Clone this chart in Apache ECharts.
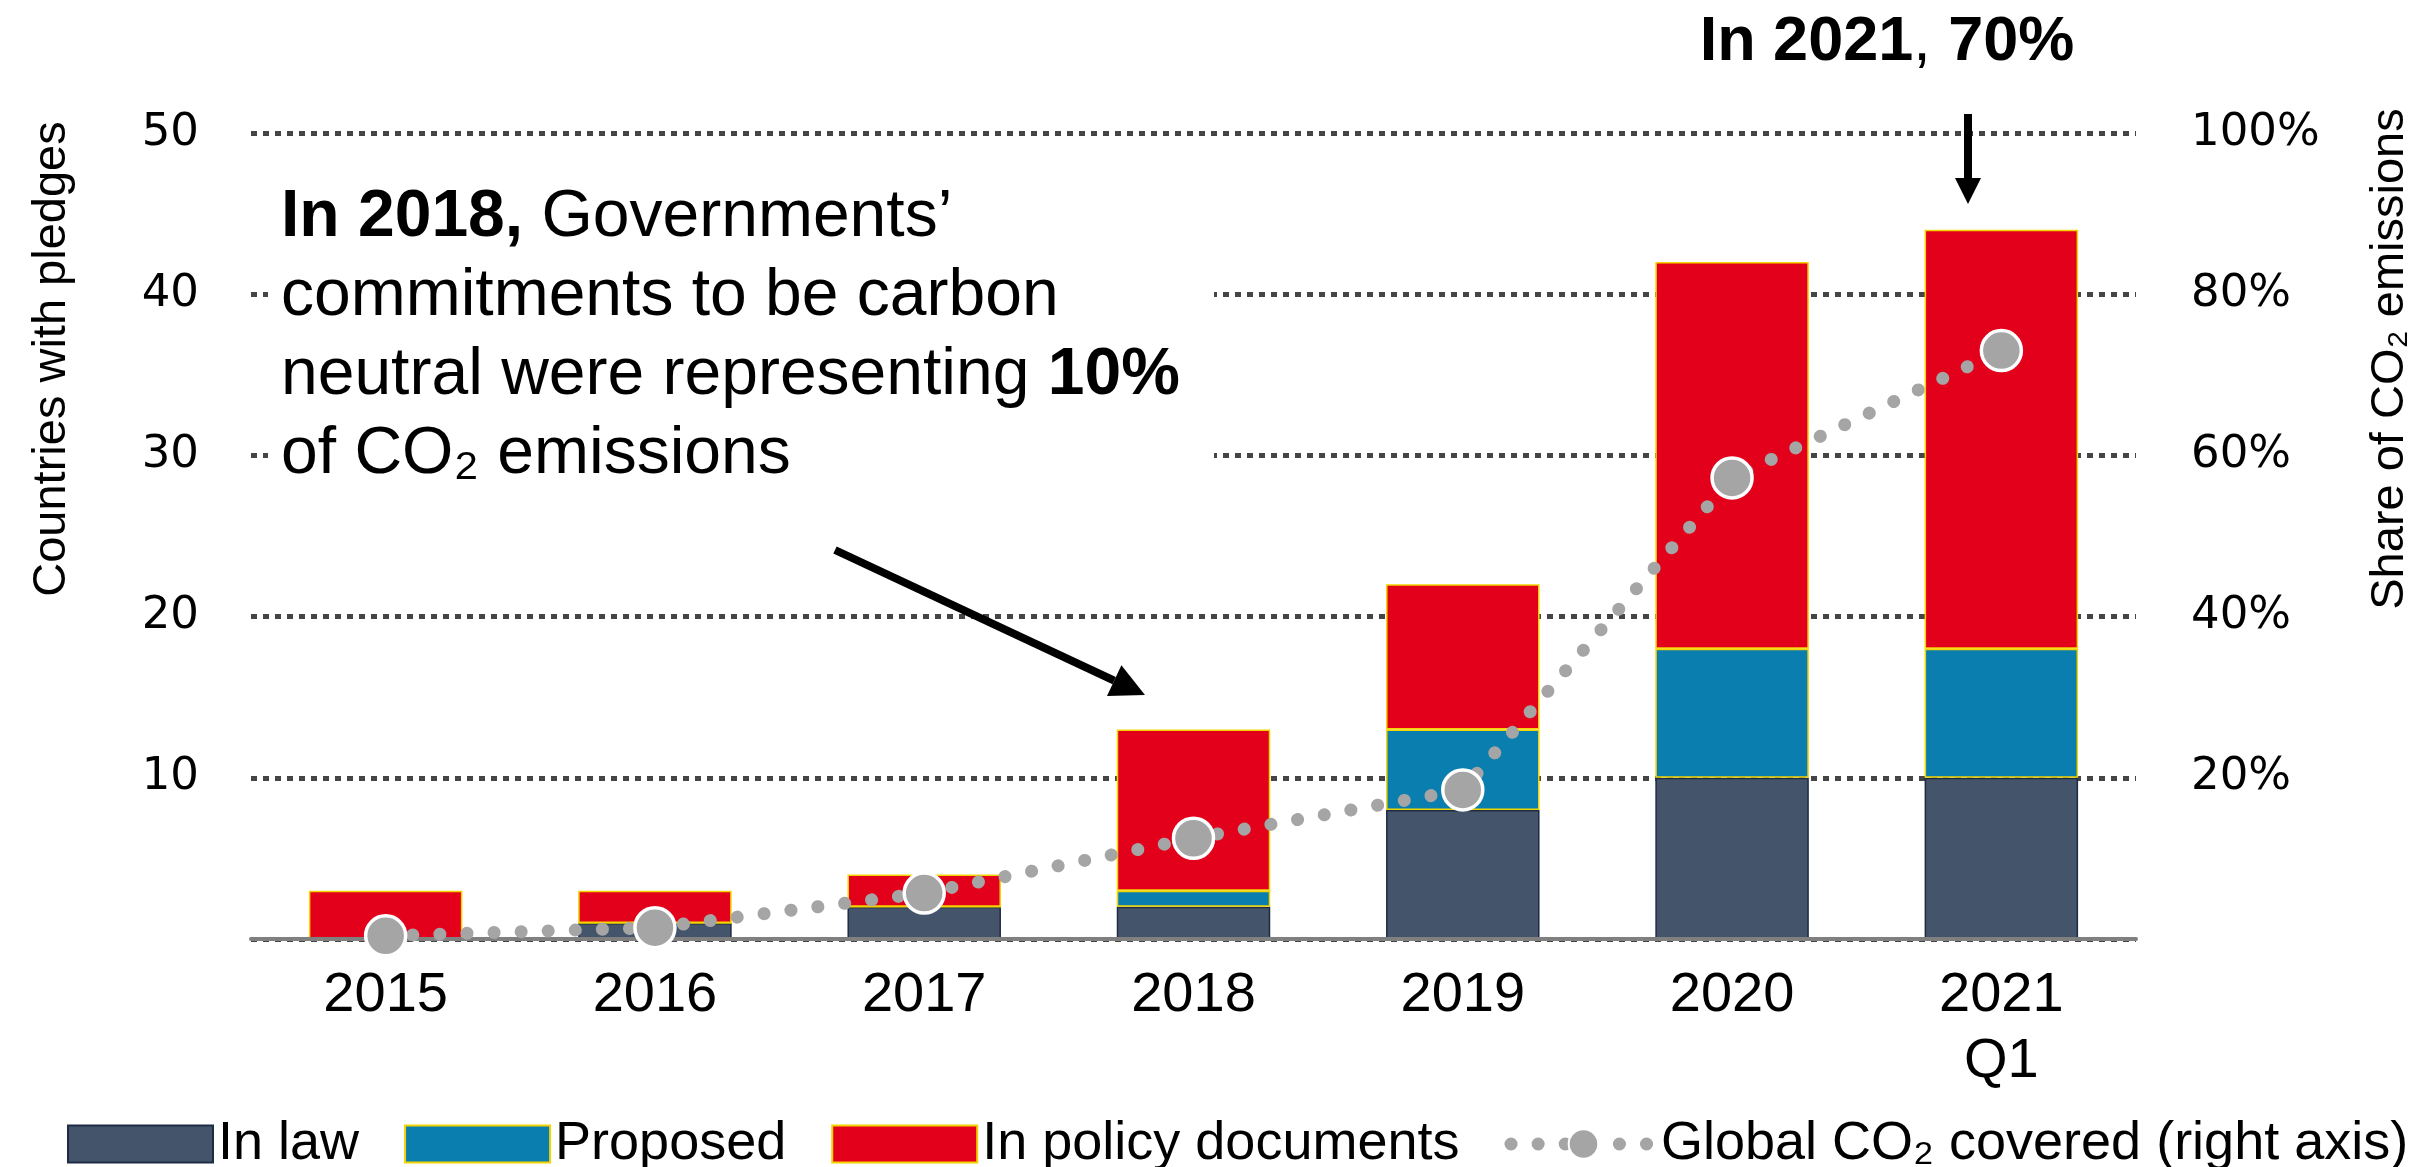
<!DOCTYPE html>
<html><head><meta charset="utf-8">
<script src="https://cdn.jsdelivr.net/npm/echarts@6/dist/echarts.min.js"></script>
<style>html,body{margin:0;padding:0;background:#fff}#c{width:2420px;height:1167px}</style>
</head><body><div id="c"></div>
<script>
// ---- data ----
const categories = ['2015', '2016', '2017', '2018', '2019', '2020', '2021\nQ1'];
const inLaw      = [0, 1, 2, 2, 8, 10, 10];
const proposed   = [0, 0, 0, 1, 5, 8, 8];
const inPolicy   = [3, 2, 2, 10, 9, 24, 26];
const co2Share   = [0.4, 1.4, 5.7, 12.5, 18.5, 57.2, 73];
const seriesNames = ['In law', 'Proposed', 'In policy documents', 'Global CO\u2082 covered (right axis)'];
const leftAxisTicks  = {min: 0, max: 50, interval: 10};
const rightAxisTicks = {min: 0, max: 100, interval: 20};

// ---- styling ----
const CAL = '"Liberation Sans", Arial, "DejaVu Sans", sans-serif';
const VER = '"DejaVu Sans", Verdana, sans-serif';
const C_LAW = '#44546A', C_PROP = '#0A7FAF', C_POL = '#E2001A', C_GREY = '#A5A5A5';
const DOTS = {color: C_GREY, width: 13, type: [0.1, 27], cap: 'round'};

const chart = echarts.init(document.getElementById('c'), null, {renderer: 'canvas'});

function arrow(x1, y1, x2, y2, w, headLen, headHalf) {
  const dx = x2 - x1, dy = y2 - y1, L = Math.hypot(dx, dy);
  const ux = dx / L, uy = dy / L, px = -uy, py = ux;
  const bx = x2 - ux * headLen, by = y2 - uy * headLen;
  return [
    {type: 'line', z: 20, shape: {x1: x1, y1: y1, x2: bx, y2: by}, style: {stroke: '#000', lineWidth: w}},
    {type: 'polygon', z: 20, shape: {points: [[x2, y2], [bx + px * headHalf, by + py * headHalf], [bx - px * headHalf, by - py * headHalf]]}, style: {fill: '#000'}}
  ];
}

const option = {
  animation: false,
  backgroundColor: '#fff',
  grid: {left: 251, right: 284, top: 133, bottom: 228},
  legend: {
    left: 62, top: 1112, itemWidth: 145, itemHeight: 37, itemGap: 45,
    selectedMode: false,
    textStyle: {fontFamily: CAL, fontSize: 54, color: '#000'},
    data: [
      {name: seriesNames[0], icon: 'rect'},
      {name: seriesNames[1], icon: 'rect'},
      {name: seriesNames[2], icon: 'rect'},
      {name: seriesNames[3], lineStyle: DOTS}
    ]
  },
  xAxis: {
    type: 'category', data: categories, z: 4,
    axisLine: {lineStyle: {color: '#808080', width: 4}},
    axisTick: {show: false},
    axisLabel: {fontFamily: CAL, fontSize: 56, color: '#000', margin: 24, lineHeight: 66}
  },
  yAxis: [
    {
      type: 'value', min: leftAxisTicks.min, max: leftAxisTicks.max, interval: leftAxisTicks.interval,
      axisLine: {show: false}, axisTick: {show: false},
      splitLine: {lineStyle: {color: '#454545', width: 5, type: [6, 6]}},
      axisLabel: {formatter: v => v === 0 ? '' : String(v), fontFamily: VER, fontSize: 45, color: '#000', margin: 52}
    },
    {
      type: 'value', position: 'right', min: rightAxisTicks.min, max: rightAxisTicks.max, interval: rightAxisTicks.interval,
      axisLine: {show: false}, axisTick: {show: false}, splitLine: {show: false},
      axisLabel: {formatter: v => v === 0 ? '' : v + '%', fontFamily: VER, fontSize: 45, color: '#000', margin: 55}
    }
  ],
  series: [
    {name: seriesNames[0], type: 'bar', stack: 'p', barWidth: '57%', data: inLaw,
     itemStyle: {color: C_LAW, borderColor: '#1E2B45', borderWidth: 1.5}},
    {name: seriesNames[1], type: 'bar', stack: 'p', barWidth: '57%', data: proposed,
     itemStyle: {color: C_PROP, borderColor: '#F2D400', borderWidth: 1.5}},
    {name: seriesNames[2], type: 'bar', stack: 'p', barWidth: '57%', data: inPolicy,
     itemStyle: {color: C_POL, borderColor: '#F2D400', borderWidth: 1.5}},
    {name: seriesNames[3], type: 'line', yAxisIndex: 1, data: co2Share, z: 6,
     symbol: 'circle', symbolSize: 40,
     itemStyle: {color: C_GREY, borderColor: '#fff', borderWidth: 3.5},
     lineStyle: DOTS}
  ],
  graphic: [
    {type: 'rect', z: 1, shape: {x: 268, y: 165, width: 946, height: 335}, style: {fill: '#fff'}},
    {type: 'text', z: 20, x: 281, y: 178,
     style: {
       text: '{b|In 2018,} Governments\u2019\ncommitments to be carbon\nneutral were representing {b|10%}\nof CO\u2082 emissions',
       fontFamily: CAL, fontSize: 66, lineHeight: 79, fill: '#000', align: 'left', verticalAlign: 'top',
       rich: {b: {fontFamily: CAL, fontSize: 66, lineHeight: 79, fontWeight: 'bold', fill: '#000'}}
     }},
    {type: 'text', z: 20, x: 1887, y: 43,
     style: {
       text: '{b|In 2021}, {b|70%}',
       fontFamily: CAL, fontSize: 63, fill: '#000', align: 'center', verticalAlign: 'middle',
       rich: {b: {fontFamily: CAL, fontSize: 63, fontWeight: 'bold', fill: '#000'}}
     }},
    {type: 'text', z: 20, x: 52, y: 359, rotation: Math.PI / 2,
     style: {text: 'Countries with pledges', fontFamily: CAL, fontSize: 47, fill: '#000', align: 'center', verticalAlign: 'middle'}},
    {type: 'text', z: 20, x: 2390, y: 359, rotation: Math.PI / 2,
     style: {text: 'Share of CO\u2082 emissions', fontFamily: CAL, fontSize: 47, fill: '#000', align: 'center', verticalAlign: 'middle'}}
  ].concat(arrow(1968, 114, 1968, 204, 8, 26, 13)).concat(arrow(835, 550, 1145, 695, 8, 34, 17))
};
chart.setOption(option);
</script>
</body></html>
